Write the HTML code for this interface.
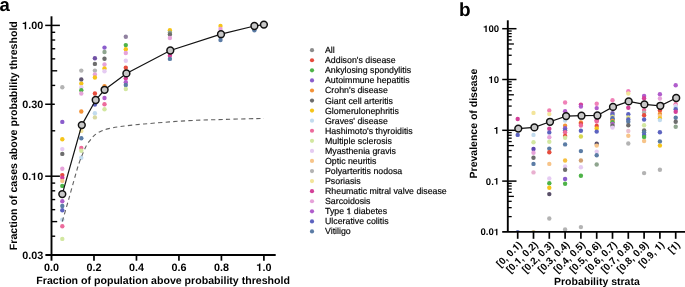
<!DOCTYPE html>
<html><head><meta charset="utf-8"><style>
html,body{margin:0;padding:0;background:#fff;}
body{width:685px;height:287px;overflow:hidden;}
svg{display:block;}
text{text-rendering:geometricPrecision;}
.h1{fill-opacity:0;}
</style></head><body>
<svg width="685" height="287" viewBox="0 0 685 287">
<rect width="685" height="287" fill="#fff"/>
<g opacity="0.995">
<text x="-0.4" y="10.9" font-size="18.5" font-weight="bold" font-family="Liberation Sans, sans-serif">a</text>
<text transform="translate(17.2,135.7) rotate(-90)" text-anchor="middle" font-size="10.6" font-weight="bold" font-family="Liberation Sans, sans-serif">Fraction of cases above probability threshold</text>
<circle cx="62.3" cy="87.2" r="2.2" fill="#b3b3b3"/>
<circle cx="62.3" cy="121.9" r="2.2" fill="#8a5ccc"/>
<circle cx="62.3" cy="139.3" r="2.2" fill="#f5c419"/>
<circle cx="62.3" cy="149.1" r="2.2" fill="#e5cbf2"/>
<circle cx="62.3" cy="153.9" r="2.2" fill="#6c6c6c"/>
<circle cx="62.3" cy="168.7" r="2.2" fill="#e6a2d9"/>
<circle cx="62.3" cy="175.1" r="2.2" fill="#e64b3c"/>
<circle cx="62.3" cy="177.8" r="2.2" fill="#d33f98"/>
<circle cx="62.3" cy="180.9" r="2.2" fill="#f7c489"/>
<circle cx="62.3" cy="185.9" r="2.2" fill="#4db347"/>
<circle cx="62.3" cy="201.2" r="2.2" fill="#b05ccc"/>
<circle cx="62.3" cy="206" r="2.2" fill="#5a7ba5"/>
<circle cx="62.3" cy="210.2" r="2.2" fill="#5b62c0"/>
<circle cx="62.3" cy="219.6" r="2.2" fill="#c2dbee"/>
<circle cx="62.3" cy="226.3" r="2.2" fill="#ec6a9c"/>
<circle cx="62.3" cy="238.9" r="2.2" fill="#d2e7a0"/>
<circle cx="81.3" cy="70.6" r="2.2" fill="#b3b3b3"/>
<circle cx="81.3" cy="79.5" r="2.2" fill="#5e5470"/>
<circle cx="81.3" cy="83.6" r="2.2" fill="#f5c419"/>
<circle cx="81.3" cy="87.2" r="2.2" fill="#e5cbf2"/>
<circle cx="81.3" cy="90.3" r="2.2" fill="#4db347"/>
<circle cx="81.3" cy="93.5" r="2.2" fill="#e6a2d9"/>
<circle cx="81.3" cy="111.5" r="2.2" fill="#f39237"/>
<circle cx="81.3" cy="130.9" r="2.2" fill="#f3e49a"/>
<circle cx="81.3" cy="138.2" r="2.2" fill="#5a7ba5"/>
<circle cx="81.3" cy="148" r="2.2" fill="#ec6a9c"/>
<circle cx="81.3" cy="150.8" r="2.2" fill="#d2e7a0"/>
<circle cx="81.3" cy="157.7" r="2.2" fill="#c2dbee"/>
<circle cx="94.9" cy="58.3" r="2.2" fill="#7050a5"/>
<circle cx="94.9" cy="63.9" r="2.2" fill="#6c6c6c"/>
<circle cx="94.9" cy="70.6" r="2.2" fill="#b3b3b3"/>
<circle cx="94.9" cy="74.4" r="2.2" fill="#e6a2d9"/>
<circle cx="94.9" cy="77.5" r="2.2" fill="#f5c419"/>
<circle cx="94.9" cy="93.5" r="2.2" fill="#e64b3c"/>
<circle cx="94.9" cy="104.5" r="2.2" fill="#5b62c0"/>
<circle cx="94.9" cy="113.2" r="2.2" fill="#c2dbee"/>
<circle cx="94.9" cy="117.4" r="2.2" fill="#d8d8a0"/>
<circle cx="104.5" cy="47.6" r="2.2" fill="#8a5ccc"/>
<circle cx="104.5" cy="52" r="2.2" fill="#8fa58f"/>
<circle cx="104.5" cy="58.7" r="2.2" fill="#6c6c6c"/>
<circle cx="104.5" cy="64.5" r="2.2" fill="#e6a2d9"/>
<circle cx="104.5" cy="68.5" r="2.2" fill="#f5c419"/>
<circle cx="104.5" cy="71.2" r="2.2" fill="#e5cbf2"/>
<circle cx="104.5" cy="86.1" r="2.2" fill="#f39237"/>
<circle cx="104.5" cy="98" r="2.2" fill="#b05ccc"/>
<circle cx="104.5" cy="104.3" r="2.2" fill="#ec6a9c"/>
<circle cx="104.5" cy="109.2" r="2.2" fill="#d2e7a0"/>
<circle cx="125.8" cy="36.7" r="2.2" fill="#9080a0"/>
<circle cx="125.8" cy="45.1" r="2.2" fill="#4db347"/>
<circle cx="125.8" cy="49.3" r="2.2" fill="#f5c419"/>
<circle cx="125.8" cy="53" r="2.2" fill="#e6a2d9"/>
<circle cx="125.8" cy="60.8" r="2.2" fill="#e5cbf2"/>
<circle cx="125.8" cy="67.7" r="2.2" fill="#e64b3c"/>
<circle cx="125.8" cy="78.3" r="2.2" fill="#d33f98"/>
<circle cx="125.8" cy="82.3" r="2.2" fill="#b05ccc"/>
<circle cx="125.8" cy="85" r="2.2" fill="#5a7ba5"/>
<circle cx="125.8" cy="89" r="2.2" fill="#d2e7a0"/>
<circle cx="169.9" cy="30.2" r="2.2" fill="#f5c419"/>
<circle cx="169.9" cy="32.6" r="2.2" fill="#8fa58f"/>
<circle cx="169.9" cy="34.4" r="2.2" fill="#6c6c6c"/>
<circle cx="169.9" cy="38" r="2.2" fill="#e6a2d9"/>
<circle cx="169.9" cy="55.8" r="2.2" fill="#d33f98"/>
<circle cx="169.9" cy="58.9" r="2.2" fill="#5a7ba5"/>
<circle cx="220.5" cy="26" r="2.2" fill="#f5c419"/>
<circle cx="220.5" cy="29" r="2.2" fill="#e6a2d9"/>
<circle cx="220.5" cy="40" r="2.2" fill="#5a7ba5"/>
<circle cx="254.4" cy="30.3" r="2.2" fill="#5a7ba5"/>
<path d="M62.3,221.5 C63.33,217.92 66.35,207.58 68.5,200 C70.65,192.42 73.43,182.17 75.2,176 C76.97,169.83 77.77,166.90 79.1,163 C80.43,159.10 81.93,155.60 83.2,152.6 C84.47,149.60 85.42,147.22 86.7,145 C87.98,142.78 89.62,140.92 90.9,139.3 C92.18,137.68 92.88,136.57 94.4,135.3 C95.92,134.03 97.80,132.77 100,131.7 C102.20,130.63 104.27,129.75 107.6,128.9 C110.93,128.05 113.95,127.42 120,126.6 C126.05,125.78 132.95,124.97 143.9,124.0 C154.85,123.03 172.18,121.57 185.7,120.8 C199.22,120.03 211.97,119.80 225,119.4 C238.03,119.00 257.42,118.57 263.9,118.4" fill="none" stroke="#606060" stroke-width="1.1" stroke-dasharray="4.3,3.25"/>
<line x1="51.5" y1="16.3" x2="51.5" y2="260.7" stroke="#000" stroke-width="1.9"/>
<line x1="45.4" y1="255.0" x2="275.7" y2="255.0" stroke="#000" stroke-width="1.9"/>
<line x1="45.2" y1="25.40" x2="59.9" y2="25.40" stroke="#000" stroke-width="1.5"/>
<text x="43.2" y="29.30" text-anchor="end" font-size="10.8" font-weight="bold" font-family="Liberation Sans, sans-serif"><tspan class="h1">1</tspan>.00</text>
<line x1="45.2" y1="104.25" x2="54.8" y2="104.25" stroke="#000" stroke-width="1.5"/>
<text x="43.2" y="108.15" text-anchor="end" font-size="10.8" font-weight="bold" font-family="Liberation Sans, sans-serif">0.30</text>
<line x1="45.2" y1="176.20" x2="59.9" y2="176.20" stroke="#000" stroke-width="1.5"/>
<text x="43.2" y="180.10" text-anchor="end" font-size="10.8" font-weight="bold" font-family="Liberation Sans, sans-serif">0.<tspan class="h1">1</tspan>0</text>
<text x="43.2" y="258.95" text-anchor="end" font-size="10.8" font-weight="bold" font-family="Liberation Sans, sans-serif">0.03</text>
<line x1="51.5" y1="32.30" x2="55.2" y2="32.30" stroke="#000" stroke-width="1.4"/>
<line x1="51.5" y1="40.01" x2="55.2" y2="40.01" stroke="#000" stroke-width="1.4"/>
<line x1="51.5" y1="48.76" x2="55.2" y2="48.76" stroke="#000" stroke-width="1.4"/>
<line x1="51.5" y1="58.85" x2="55.2" y2="58.85" stroke="#000" stroke-width="1.4"/>
<line x1="51.5" y1="70.80" x2="57.2" y2="70.80" stroke="#000" stroke-width="1.4"/>
<line x1="51.5" y1="85.41" x2="55.2" y2="85.41" stroke="#000" stroke-width="1.4"/>
<line x1="51.5" y1="130.80" x2="55.2" y2="130.80" stroke="#000" stroke-width="1.4"/>
<line x1="51.5" y1="183.10" x2="55.2" y2="183.10" stroke="#000" stroke-width="1.4"/>
<line x1="51.5" y1="190.81" x2="55.2" y2="190.81" stroke="#000" stroke-width="1.4"/>
<line x1="51.5" y1="199.56" x2="55.2" y2="199.56" stroke="#000" stroke-width="1.4"/>
<line x1="51.5" y1="209.65" x2="55.2" y2="209.65" stroke="#000" stroke-width="1.4"/>
<line x1="51.5" y1="221.60" x2="57.2" y2="221.60" stroke="#000" stroke-width="1.4"/>
<line x1="51.5" y1="236.21" x2="55.2" y2="236.21" stroke="#000" stroke-width="1.4"/>
<text x="51.50" y="270.9" text-anchor="middle" font-size="10.8" font-weight="bold" font-family="Liberation Sans, sans-serif">0.0</text>
<line x1="93.98" y1="255.0" x2="93.98" y2="260.7" stroke="#000" stroke-width="1.7"/>
<text x="93.98" y="270.9" text-anchor="middle" font-size="10.8" font-weight="bold" font-family="Liberation Sans, sans-serif">0.2</text>
<line x1="136.46" y1="255.0" x2="136.46" y2="260.7" stroke="#000" stroke-width="1.7"/>
<text x="136.46" y="270.9" text-anchor="middle" font-size="10.8" font-weight="bold" font-family="Liberation Sans, sans-serif">0.4</text>
<line x1="178.94" y1="255.0" x2="178.94" y2="260.7" stroke="#000" stroke-width="1.7"/>
<text x="178.94" y="270.9" text-anchor="middle" font-size="10.8" font-weight="bold" font-family="Liberation Sans, sans-serif">0.6</text>
<line x1="221.42" y1="255.0" x2="221.42" y2="260.7" stroke="#000" stroke-width="1.7"/>
<text x="221.42" y="270.9" text-anchor="middle" font-size="10.8" font-weight="bold" font-family="Liberation Sans, sans-serif">0.8</text>
<line x1="263.90" y1="255.0" x2="263.90" y2="260.7" stroke="#000" stroke-width="1.7"/>
<text x="263.90" y="270.9" text-anchor="middle" font-size="10.8" font-weight="bold" font-family="Liberation Sans, sans-serif"><tspan class="h1">1</tspan>.0</text>
<text x="36.3" y="283.6" font-size="10.6" font-weight="bold" font-family="Liberation Sans, sans-serif">Fraction of population above probability threshold</text>
<polyline points="62.3,194.1 81.8,125.1 95.7,100.0 104.6,89.8 126.4,73.4 170.3,50.5 221.0,34.2 254.4,26.0 263.9,24.6" fill="none" stroke="#111" stroke-width="1.2"/>
<circle cx="62.3" cy="194.1" r="3.4" fill="#c8c8c8" stroke="#111" stroke-width="1.5"/>
<circle cx="81.8" cy="125.1" r="3.4" fill="#c8c8c8" stroke="#111" stroke-width="1.5"/>
<circle cx="95.7" cy="100.0" r="3.4" fill="#c8c8c8" stroke="#111" stroke-width="1.5"/>
<circle cx="104.6" cy="89.8" r="3.4" fill="#c8c8c8" stroke="#111" stroke-width="1.5"/>
<circle cx="126.4" cy="73.4" r="3.4" fill="#c8c8c8" stroke="#111" stroke-width="1.5"/>
<circle cx="170.3" cy="50.5" r="3.4" fill="#c8c8c8" stroke="#111" stroke-width="1.5"/>
<circle cx="221.0" cy="34.2" r="3.4" fill="#c8c8c8" stroke="#111" stroke-width="1.5"/>
<circle cx="254.4" cy="26.0" r="3.4" fill="#c8c8c8" stroke="#111" stroke-width="1.5"/>
<circle cx="263.9" cy="24.6" r="3.4" fill="#c8c8c8" stroke="#111" stroke-width="1.5"/>
<circle cx="312" cy="50.20" r="2.1" fill="#8c8c8c"/>
<text x="325" y="53.20" font-size="8.8" fill="#000" stroke="#000" stroke-width="0.18" font-family="Liberation Sans, sans-serif">All</text>
<circle cx="312" cy="60.27" r="2.1" fill="#e64b3c"/>
<text x="325" y="63.27" font-size="8.8" fill="#000" stroke="#000" stroke-width="0.18" font-family="Liberation Sans, sans-serif">Addison's disease</text>
<circle cx="312" cy="70.34" r="2.1" fill="#4db347"/>
<text x="325" y="73.34" font-size="8.8" fill="#000" stroke="#000" stroke-width="0.18" font-family="Liberation Sans, sans-serif">Ankylosing spondylitis</text>
<circle cx="312" cy="80.41" r="2.1" fill="#8a5ccc"/>
<text x="325" y="83.41" font-size="8.8" fill="#000" stroke="#000" stroke-width="0.18" font-family="Liberation Sans, sans-serif">Autoimmune hepatitis</text>
<circle cx="312" cy="90.48" r="2.1" fill="#f39237"/>
<text x="325" y="93.48" font-size="8.8" fill="#000" stroke="#000" stroke-width="0.18" font-family="Liberation Sans, sans-serif">Crohn's disease</text>
<circle cx="312" cy="100.55" r="2.1" fill="#6c6c6c"/>
<text x="325" y="103.55" font-size="8.8" fill="#000" stroke="#000" stroke-width="0.18" font-family="Liberation Sans, sans-serif">Giant cell arteritis</text>
<circle cx="312" cy="110.62" r="2.1" fill="#f5c419"/>
<text x="325" y="113.62" font-size="8.8" fill="#000" stroke="#000" stroke-width="0.18" font-family="Liberation Sans, sans-serif">Glomerulonephritis</text>
<circle cx="312" cy="120.69" r="2.1" fill="#c2dbee"/>
<text x="325" y="123.69" font-size="8.8" fill="#000" stroke="#000" stroke-width="0.18" font-family="Liberation Sans, sans-serif">Graves' disease</text>
<circle cx="312" cy="130.76" r="2.1" fill="#ec6a9c"/>
<text x="325" y="133.76" font-size="8.8" fill="#000" stroke="#000" stroke-width="0.18" font-family="Liberation Sans, sans-serif">Hashimoto's thyroiditis</text>
<circle cx="312" cy="140.83" r="2.1" fill="#d2e7a0"/>
<text x="325" y="143.83" font-size="8.8" fill="#000" stroke="#000" stroke-width="0.18" font-family="Liberation Sans, sans-serif">Multiple sclerosis</text>
<circle cx="312" cy="150.90" r="2.1" fill="#e5cbf2"/>
<text x="325" y="153.90" font-size="8.8" fill="#000" stroke="#000" stroke-width="0.18" font-family="Liberation Sans, sans-serif">Myasthenia gravis</text>
<circle cx="312" cy="160.97" r="2.1" fill="#f7c489"/>
<text x="325" y="163.97" font-size="8.8" fill="#000" stroke="#000" stroke-width="0.18" font-family="Liberation Sans, sans-serif">Optic neuritis</text>
<circle cx="312" cy="171.04" r="2.1" fill="#b3b3b3"/>
<text x="325" y="174.04" font-size="8.8" fill="#000" stroke="#000" stroke-width="0.18" font-family="Liberation Sans, sans-serif">Polyarteritis nodosa</text>
<circle cx="312" cy="181.11" r="2.1" fill="#f3e49a"/>
<text x="325" y="184.11" font-size="8.8" fill="#000" stroke="#000" stroke-width="0.18" font-family="Liberation Sans, sans-serif">Psoriasis</text>
<circle cx="312" cy="191.18" r="2.1" fill="#d33f98"/>
<text x="325" y="194.18" font-size="8.8" fill="#000" stroke="#000" stroke-width="0.18" font-family="Liberation Sans, sans-serif">Rheumatic mitral valve disease</text>
<circle cx="312" cy="201.25" r="2.1" fill="#e6a2d9"/>
<text x="325" y="204.25" font-size="8.8" fill="#000" stroke="#000" stroke-width="0.18" font-family="Liberation Sans, sans-serif">Sarcoidosis</text>
<circle cx="312" cy="211.32" r="2.1" fill="#b05ccc"/>
<text x="325" y="214.32" font-size="8.8" fill="#000" stroke="#000" stroke-width="0.18" font-family="Liberation Sans, sans-serif">Type <tspan class="h1">1</tspan> diabetes</text>
<circle cx="312" cy="221.39" r="2.1" fill="#5b62c0"/>
<text x="325" y="224.39" font-size="8.8" fill="#000" stroke="#000" stroke-width="0.18" font-family="Liberation Sans, sans-serif">Ulcerative colitis</text>
<circle cx="312" cy="231.46" r="2.1" fill="#5a7ba5"/>
<text x="325" y="234.46" font-size="8.8" fill="#000" stroke="#000" stroke-width="0.18" font-family="Liberation Sans, sans-serif">Vitiligo</text>
<text x="459" y="15.9" font-size="19" font-weight="bold" font-family="Liberation Sans, sans-serif">b</text>
<text transform="translate(476.6,123.6) rotate(-90)" text-anchor="middle" font-size="10.5" font-weight="bold" font-family="Liberation Sans, sans-serif">Prevalence of disease</text>
<clipPath id="cb"><rect x="500" y="0" width="185" height="231.9"/></clipPath><g clip-path="url(#cb)">
<circle cx="517.7" cy="119" r="2.2" fill="#d33f98"/>
<circle cx="517.7" cy="134.9" r="2.2" fill="#5b62c0"/>
<circle cx="517.7" cy="232.2" r="2.2" fill="#6470b0"/>
<circle cx="533.5" cy="112.9" r="2.2" fill="#f3e49a"/>
<circle cx="533.5" cy="134.9" r="2.2" fill="#c2dbee"/>
<circle cx="533.5" cy="142.3" r="2.2" fill="#d2e7a0"/>
<circle cx="533.5" cy="149" r="2.2" fill="#5b45b0"/>
<circle cx="533.5" cy="152.7" r="2.2" fill="#e6a2d9"/>
<circle cx="533.5" cy="157.8" r="2.2" fill="#6c6c6c"/>
<circle cx="533.5" cy="163.9" r="2.2" fill="#5a7ba5"/>
<circle cx="533.5" cy="172.4" r="2.2" fill="#e9b0d0"/>
<circle cx="533.5" cy="232.2" r="2.2" fill="#c8b888"/>
<circle cx="549.3" cy="110.5" r="2.2" fill="#f080b0"/>
<circle cx="549.3" cy="114.1" r="2.2" fill="#f3e49a"/>
<circle cx="549.3" cy="128.8" r="2.2" fill="#d33f98"/>
<circle cx="549.3" cy="132.4" r="2.2" fill="#5b62c0"/>
<circle cx="549.3" cy="137.3" r="2.2" fill="#e6a2d9"/>
<circle cx="549.3" cy="141.8" r="2.2" fill="#d2e7a0"/>
<circle cx="549.3" cy="148.6" r="2.2" fill="#5a7ba5"/>
<circle cx="549.3" cy="152.2" r="2.2" fill="#e64b3c"/>
<circle cx="549.3" cy="163.9" r="2.2" fill="#f7c489"/>
<circle cx="549.3" cy="178.5" r="2.2" fill="#e5cbf2"/>
<circle cx="549.3" cy="183.2" r="2.2" fill="#4db347"/>
<circle cx="549.3" cy="187.8" r="2.2" fill="#f5c419"/>
<circle cx="549.3" cy="194.1" r="2.2" fill="#574d66"/>
<circle cx="549.3" cy="218.5" r="2.2" fill="#b3b3b3"/>
<circle cx="565.1" cy="102.5" r="2.2" fill="#f080b8"/>
<circle cx="565.1" cy="111.2" r="2.2" fill="#b05ccc"/>
<circle cx="565.1" cy="120.5" r="2.2" fill="#c2dbee"/>
<circle cx="565.1" cy="125.7" r="2.2" fill="#f39237"/>
<circle cx="565.1" cy="128.2" r="2.2" fill="#8a5ccc"/>
<circle cx="565.1" cy="130.2" r="2.2" fill="#5b62c0"/>
<circle cx="565.1" cy="132.3" r="2.2" fill="#ec6a9c"/>
<circle cx="565.1" cy="136" r="2.2" fill="#e64b3c"/>
<circle cx="565.1" cy="137.8" r="2.2" fill="#d2e7a0"/>
<circle cx="565.1" cy="144.4" r="2.2" fill="#5a7ba5"/>
<circle cx="565.1" cy="160.5" r="2.2" fill="#f6c040"/>
<circle cx="565.1" cy="166.5" r="2.2" fill="#e5cbf2"/>
<circle cx="565.1" cy="169.8" r="2.2" fill="#6c6c6c"/>
<circle cx="565.1" cy="179" r="2.2" fill="#8a5ccc"/>
<circle cx="565.1" cy="183.7" r="2.2" fill="#4db347"/>
<circle cx="565.1" cy="229.4" r="2.2" fill="#b3b3b3"/>
<circle cx="580.9" cy="104.6" r="2.2" fill="#d33f98"/>
<circle cx="580.9" cy="106.6" r="2.2" fill="#b05ccc"/>
<circle cx="580.9" cy="122.5" r="2.2" fill="#f39237"/>
<circle cx="580.9" cy="123.7" r="2.2" fill="#e64b3c"/>
<circle cx="580.9" cy="125.5" r="2.2" fill="#ec6a9c"/>
<circle cx="580.9" cy="130.7" r="2.2" fill="#5b62c0"/>
<circle cx="580.9" cy="136.5" r="2.2" fill="#d8d850"/>
<circle cx="580.9" cy="151.1" r="2.2" fill="#5a7ba5"/>
<circle cx="580.9" cy="160.5" r="2.2" fill="#d0a070"/>
<circle cx="580.9" cy="167.2" r="2.2" fill="#e5cbf2"/>
<circle cx="580.9" cy="175.8" r="2.2" fill="#4db347"/>
<circle cx="580.9" cy="227.1" r="2.2" fill="#b3b3b3"/>
<circle cx="596.7" cy="103.7" r="2.2" fill="#f080b8"/>
<circle cx="596.7" cy="108.1" r="2.2" fill="#b05ccc"/>
<circle cx="596.7" cy="120.3" r="2.2" fill="#d33f98"/>
<circle cx="596.7" cy="121.6" r="2.2" fill="#ec6a9c"/>
<circle cx="596.7" cy="126" r="2.2" fill="#e64b3c"/>
<circle cx="596.7" cy="128.4" r="2.2" fill="#f5c419"/>
<circle cx="596.7" cy="131.6" r="2.2" fill="#5b62c0"/>
<circle cx="596.7" cy="143.8" r="2.2" fill="#574d66"/>
<circle cx="596.7" cy="145.6" r="2.2" fill="#f7c489"/>
<circle cx="596.7" cy="151.6" r="2.2" fill="#e5cbf2"/>
<circle cx="596.7" cy="155.2" r="2.2" fill="#5a7ba5"/>
<circle cx="596.7" cy="164.5" r="2.2" fill="#8fa58f"/>
<circle cx="612.5" cy="100.2" r="2.2" fill="#f080b8"/>
<circle cx="612.5" cy="113.1" r="2.2" fill="#7b5ea7"/>
<circle cx="612.5" cy="114.8" r="2.2" fill="#5b62c0"/>
<circle cx="612.5" cy="116.6" r="2.2" fill="#d0dc80"/>
<circle cx="612.5" cy="118.3" r="2.2" fill="#5b62c0"/>
<circle cx="612.5" cy="119.5" r="2.2" fill="#5a7ba5"/>
<circle cx="612.5" cy="120.9" r="2.2" fill="#f39237"/>
<circle cx="612.5" cy="122.3" r="2.2" fill="#4db347"/>
<circle cx="612.5" cy="123.9" r="2.2" fill="#b05ccc"/>
<circle cx="612.5" cy="125.8" r="2.2" fill="#6c6c6c"/>
<circle cx="612.5" cy="127.6" r="2.2" fill="#e5cbf2"/>
<circle cx="628.3" cy="91.2" r="2.2" fill="#f080c0"/>
<circle cx="628.3" cy="93.5" r="2.2" fill="#f3e49a"/>
<circle cx="628.3" cy="107.7" r="2.2" fill="#d33f98"/>
<circle cx="628.3" cy="114.3" r="2.2" fill="#5b62c0"/>
<circle cx="628.3" cy="117.4" r="2.2" fill="#e0e080"/>
<circle cx="628.3" cy="119.5" r="2.2" fill="#5b62c0"/>
<circle cx="628.3" cy="121.8" r="2.2" fill="#5a7ba5"/>
<circle cx="628.3" cy="125.3" r="2.2" fill="#6c6c6c"/>
<circle cx="628.3" cy="131" r="2.2" fill="#e9c0d0"/>
<circle cx="628.3" cy="135.8" r="2.2" fill="#f7c489"/>
<circle cx="628.3" cy="143.5" r="2.2" fill="#b3b3b3"/>
<circle cx="644.1" cy="96" r="2.2" fill="#b05ccc"/>
<circle cx="644.1" cy="98.3" r="2.2" fill="#d33f98"/>
<circle cx="644.1" cy="110.1" r="2.2" fill="#ec6a9c"/>
<circle cx="644.1" cy="112.6" r="2.2" fill="#b3b3b3"/>
<circle cx="644.1" cy="115.3" r="2.2" fill="#e64b3c"/>
<circle cx="644.1" cy="119.5" r="2.2" fill="#5b62c0"/>
<circle cx="644.1" cy="125.3" r="2.2" fill="#d2e7a0"/>
<circle cx="644.1" cy="130.5" r="2.2" fill="#6c6c6c"/>
<circle cx="644.1" cy="132.3" r="2.2" fill="#5a7ba5"/>
<circle cx="644.1" cy="134.9" r="2.2" fill="#5b62c0"/>
<circle cx="644.1" cy="137" r="2.2" fill="#4db347"/>
<circle cx="644.1" cy="141" r="2.2" fill="#f7c489"/>
<circle cx="644.1" cy="173.1" r="2.2" fill="#b3b3b3"/>
<circle cx="659.9" cy="94.3" r="2.2" fill="#b05ccc"/>
<circle cx="659.9" cy="98.5" r="2.2" fill="#e6a2d9"/>
<circle cx="659.9" cy="110.5" r="2.2" fill="#e64b3c"/>
<circle cx="659.9" cy="114" r="2.2" fill="#f39237"/>
<circle cx="659.9" cy="116" r="2.2" fill="#f7c489"/>
<circle cx="659.9" cy="118.4" r="2.2" fill="#f5c419"/>
<circle cx="659.9" cy="120.1" r="2.2" fill="#c2dbee"/>
<circle cx="659.9" cy="132.3" r="2.2" fill="#5b62c0"/>
<circle cx="659.9" cy="141.5" r="2.2" fill="#5a7ba5"/>
<circle cx="659.9" cy="145.6" r="2.2" fill="#f5c419"/>
<circle cx="659.9" cy="169.8" r="2.2" fill="#b3b3b3"/>
<circle cx="675.7" cy="85.3" r="2.2" fill="#b05ccc"/>
<circle cx="675.7" cy="104.3" r="2.2" fill="#ec6a9c"/>
<circle cx="675.7" cy="105.8" r="2.2" fill="#e5cbf2"/>
<circle cx="675.7" cy="107.5" r="2.2" fill="#c2dbee"/>
<circle cx="675.7" cy="109.3" r="2.2" fill="#5b62c0"/>
<circle cx="675.7" cy="111.8" r="2.2" fill="#d33f98"/>
<circle cx="675.7" cy="117.7" r="2.2" fill="#5a7ba5"/>
<circle cx="675.7" cy="121.8" r="2.2" fill="#6c6c6c"/>
<circle cx="675.7" cy="126.7" r="2.2" fill="#8fa58f"/>
</g>
<line x1="507.8" y1="20.3" x2="507.8" y2="231.9" stroke="#000" stroke-width="1.9"/>
<line x1="502.2" y1="231.9" x2="686" y2="231.9" stroke="#000" stroke-width="1.9"/>
<line x1="502.2" y1="28.70" x2="516.5" y2="28.70" stroke="#000" stroke-width="1.5"/>
<text x="499.2" y="32.10" text-anchor="end" font-size="9.6" font-weight="bold" font-family="Liberation Sans, sans-serif"><tspan class="h1">1</tspan>00</text>
<line x1="502.2" y1="79.50" x2="516.5" y2="79.50" stroke="#000" stroke-width="1.5"/>
<text x="499.2" y="82.90" text-anchor="end" font-size="9.6" font-weight="bold" font-family="Liberation Sans, sans-serif"><tspan class="h1">1</tspan>0</text>
<line x1="502.2" y1="130.30" x2="516.5" y2="130.30" stroke="#000" stroke-width="1.5"/>
<text x="499.2" y="133.70" text-anchor="end" font-size="9.6" font-weight="bold" font-family="Liberation Sans, sans-serif"><tspan class="h1">1</tspan></text>
<line x1="502.2" y1="181.10" x2="516.5" y2="181.10" stroke="#000" stroke-width="1.5"/>
<text x="499.2" y="184.50" text-anchor="end" font-size="9.6" font-weight="bold" font-family="Liberation Sans, sans-serif">0.<tspan class="h1">1</tspan></text>
<text x="499.2" y="235.30" text-anchor="end" font-size="9.6" font-weight="bold" font-family="Liberation Sans, sans-serif">0.0<tspan class="h1">1</tspan></text>
<line x1="507.8" y1="64.21" x2="511.7" y2="64.21" stroke="#000" stroke-width="1.3"/>
<line x1="507.8" y1="55.26" x2="511.7" y2="55.26" stroke="#000" stroke-width="1.3"/>
<line x1="507.8" y1="48.92" x2="511.7" y2="48.92" stroke="#000" stroke-width="1.3"/>
<line x1="507.8" y1="43.99" x2="513.9" y2="43.99" stroke="#000" stroke-width="1.3"/>
<line x1="507.8" y1="39.97" x2="511.7" y2="39.97" stroke="#000" stroke-width="1.3"/>
<line x1="507.8" y1="36.57" x2="511.7" y2="36.57" stroke="#000" stroke-width="1.3"/>
<line x1="507.8" y1="33.62" x2="511.7" y2="33.62" stroke="#000" stroke-width="1.3"/>
<line x1="507.8" y1="31.02" x2="511.7" y2="31.02" stroke="#000" stroke-width="1.3"/>
<line x1="507.8" y1="115.01" x2="511.7" y2="115.01" stroke="#000" stroke-width="1.3"/>
<line x1="507.8" y1="106.06" x2="511.7" y2="106.06" stroke="#000" stroke-width="1.3"/>
<line x1="507.8" y1="99.72" x2="511.7" y2="99.72" stroke="#000" stroke-width="1.3"/>
<line x1="507.8" y1="94.79" x2="513.9" y2="94.79" stroke="#000" stroke-width="1.3"/>
<line x1="507.8" y1="90.77" x2="511.7" y2="90.77" stroke="#000" stroke-width="1.3"/>
<line x1="507.8" y1="87.37" x2="511.7" y2="87.37" stroke="#000" stroke-width="1.3"/>
<line x1="507.8" y1="84.42" x2="511.7" y2="84.42" stroke="#000" stroke-width="1.3"/>
<line x1="507.8" y1="81.82" x2="511.7" y2="81.82" stroke="#000" stroke-width="1.3"/>
<line x1="507.8" y1="165.81" x2="511.7" y2="165.81" stroke="#000" stroke-width="1.3"/>
<line x1="507.8" y1="156.86" x2="511.7" y2="156.86" stroke="#000" stroke-width="1.3"/>
<line x1="507.8" y1="150.52" x2="511.7" y2="150.52" stroke="#000" stroke-width="1.3"/>
<line x1="507.8" y1="145.59" x2="513.9" y2="145.59" stroke="#000" stroke-width="1.3"/>
<line x1="507.8" y1="141.57" x2="511.7" y2="141.57" stroke="#000" stroke-width="1.3"/>
<line x1="507.8" y1="138.17" x2="511.7" y2="138.17" stroke="#000" stroke-width="1.3"/>
<line x1="507.8" y1="135.22" x2="511.7" y2="135.22" stroke="#000" stroke-width="1.3"/>
<line x1="507.8" y1="132.62" x2="511.7" y2="132.62" stroke="#000" stroke-width="1.3"/>
<line x1="507.8" y1="216.61" x2="511.7" y2="216.61" stroke="#000" stroke-width="1.3"/>
<line x1="507.8" y1="207.66" x2="511.7" y2="207.66" stroke="#000" stroke-width="1.3"/>
<line x1="507.8" y1="201.32" x2="511.7" y2="201.32" stroke="#000" stroke-width="1.3"/>
<line x1="507.8" y1="196.39" x2="513.9" y2="196.39" stroke="#000" stroke-width="1.3"/>
<line x1="507.8" y1="192.37" x2="511.7" y2="192.37" stroke="#000" stroke-width="1.3"/>
<line x1="507.8" y1="188.97" x2="511.7" y2="188.97" stroke="#000" stroke-width="1.3"/>
<line x1="507.8" y1="186.02" x2="511.7" y2="186.02" stroke="#000" stroke-width="1.3"/>
<line x1="507.8" y1="183.42" x2="511.7" y2="183.42" stroke="#000" stroke-width="1.3"/>
<line x1="517.70" y1="231.9" x2="517.70" y2="238.8" stroke="#000" stroke-width="1.7"/>
<text transform="translate(522.70,245.3) rotate(-45)" text-anchor="end" font-size="10" font-weight="bold" font-family="Liberation Sans, sans-serif">[0, 0.<tspan class="h1">1</tspan>)</text>
<line x1="533.50" y1="231.9" x2="533.50" y2="238.8" stroke="#000" stroke-width="1.7"/>
<text transform="translate(538.50,245.3) rotate(-45)" text-anchor="end" font-size="10" font-weight="bold" font-family="Liberation Sans, sans-serif">[0.<tspan class="h1">1</tspan>, 0.2)</text>
<line x1="549.30" y1="231.9" x2="549.30" y2="238.8" stroke="#000" stroke-width="1.7"/>
<text transform="translate(554.30,245.3) rotate(-45)" text-anchor="end" font-size="10" font-weight="bold" font-family="Liberation Sans, sans-serif">[0.2, 0.3)</text>
<line x1="565.10" y1="231.9" x2="565.10" y2="238.8" stroke="#000" stroke-width="1.7"/>
<text transform="translate(570.10,245.3) rotate(-45)" text-anchor="end" font-size="10" font-weight="bold" font-family="Liberation Sans, sans-serif">[0.3, 0.4)</text>
<line x1="580.90" y1="231.9" x2="580.90" y2="238.8" stroke="#000" stroke-width="1.7"/>
<text transform="translate(585.90,245.3) rotate(-45)" text-anchor="end" font-size="10" font-weight="bold" font-family="Liberation Sans, sans-serif">[0.4, 0.5)</text>
<line x1="596.70" y1="231.9" x2="596.70" y2="238.8" stroke="#000" stroke-width="1.7"/>
<text transform="translate(601.70,245.3) rotate(-45)" text-anchor="end" font-size="10" font-weight="bold" font-family="Liberation Sans, sans-serif">[0.5, 0.6)</text>
<line x1="612.50" y1="231.9" x2="612.50" y2="238.8" stroke="#000" stroke-width="1.7"/>
<text transform="translate(617.50,245.3) rotate(-45)" text-anchor="end" font-size="10" font-weight="bold" font-family="Liberation Sans, sans-serif">[0.6, 0.7)</text>
<line x1="628.30" y1="231.9" x2="628.30" y2="238.8" stroke="#000" stroke-width="1.7"/>
<text transform="translate(633.30,245.3) rotate(-45)" text-anchor="end" font-size="10" font-weight="bold" font-family="Liberation Sans, sans-serif">[0.7, 0.8)</text>
<line x1="644.10" y1="231.9" x2="644.10" y2="238.8" stroke="#000" stroke-width="1.7"/>
<text transform="translate(649.10,245.3) rotate(-45)" text-anchor="end" font-size="10" font-weight="bold" font-family="Liberation Sans, sans-serif">[0.8, 0.9)</text>
<line x1="659.90" y1="231.9" x2="659.90" y2="238.8" stroke="#000" stroke-width="1.7"/>
<text transform="translate(664.90,245.3) rotate(-45)" text-anchor="end" font-size="10" font-weight="bold" font-family="Liberation Sans, sans-serif">[0.9, <tspan class="h1">1</tspan>)</text>
<line x1="675.70" y1="231.9" x2="675.70" y2="238.8" stroke="#000" stroke-width="1.7"/>
<text transform="translate(680.70,245.3) rotate(-45)" text-anchor="end" font-size="10" font-weight="bold" font-family="Liberation Sans, sans-serif">[<tspan class="h1">1</tspan>)</text>
<text x="554" y="284.6" font-size="10.5" font-weight="bold" font-family="Liberation Sans, sans-serif">Probability strata</text>
<polyline points="518.3,128.6 534.4,127.4 550,121.8 566.1,116.1 581.5,115.7 597.4,115.5 613,106.9 628.7,101.4 644.4,104.4 660.3,105.8 676.2,98.0" fill="none" stroke="#111" stroke-width="1.2"/>
<circle cx="518.3" cy="128.6" r="3.4" fill="#c8c8c8" stroke="#111" stroke-width="1.5"/>
<circle cx="534.4" cy="127.4" r="3.4" fill="#c8c8c8" stroke="#111" stroke-width="1.5"/>
<circle cx="550" cy="121.8" r="3.4" fill="#c8c8c8" stroke="#111" stroke-width="1.5"/>
<circle cx="566.1" cy="116.1" r="3.4" fill="#c8c8c8" stroke="#111" stroke-width="1.5"/>
<circle cx="581.5" cy="115.7" r="3.4" fill="#c8c8c8" stroke="#111" stroke-width="1.5"/>
<circle cx="597.4" cy="115.5" r="3.4" fill="#c8c8c8" stroke="#111" stroke-width="1.5"/>
<circle cx="613" cy="106.9" r="3.4" fill="#c8c8c8" stroke="#111" stroke-width="1.5"/>
<circle cx="628.7" cy="101.4" r="3.4" fill="#c8c8c8" stroke="#111" stroke-width="1.5"/>
<circle cx="644.4" cy="104.4" r="3.4" fill="#c8c8c8" stroke="#111" stroke-width="1.5"/>
<circle cx="660.3" cy="105.8" r="3.4" fill="#c8c8c8" stroke="#111" stroke-width="1.5"/>
<circle cx="676.2" cy="98.0" r="3.4" fill="#c8c8c8" stroke="#111" stroke-width="1.5"/>
<path transform="translate(22.169,29.300) scale(0.005273,-0.005273)" d="M760,0 L760,1409 L540,1409 C520,1260 380,1190 100,1180 L100,1000 L480,1000 L480,0 Z"/>
<path transform="translate(31.169,180.100) scale(0.005273,-0.005273)" d="M760,0 L760,1409 L540,1409 C520,1260 380,1190 100,1180 L100,1000 L480,1000 L480,0 Z"/>
<path transform="translate(256.384,270.900) scale(0.005273,-0.005273)" d="M760,0 L760,1409 L540,1409 C520,1260 380,1190 100,1180 L100,1000 L480,1000 L480,0 Z"/>
<path transform="translate(346.516,214.320) scale(0.004297,-0.004297)" d="M696,0 L696,1409 L530,1409 C505,1270 380,1200 120,1190 L120,1050 L515,1050 L515,0 Z" stroke="#000" stroke-width="41.9"/>
<path transform="translate(483.184,32.100) scale(0.004687,-0.004687)" d="M760,0 L760,1409 L540,1409 C520,1260 380,1190 100,1180 L100,1000 L480,1000 L480,0 Z"/>
<path transform="translate(488.513,82.900) scale(0.004687,-0.004687)" d="M760,0 L760,1409 L540,1409 C520,1260 380,1190 100,1180 L100,1000 L480,1000 L480,0 Z"/>
<path transform="translate(493.856,133.700) scale(0.004687,-0.004687)" d="M760,0 L760,1409 L540,1409 C520,1260 380,1190 100,1180 L100,1000 L480,1000 L480,0 Z"/>
<path transform="translate(493.856,184.500) scale(0.004687,-0.004687)" d="M760,0 L760,1409 L540,1409 C520,1260 380,1190 100,1180 L100,1000 L480,1000 L480,0 Z"/>
<path transform="translate(493.856,235.300) scale(0.004687,-0.004687)" d="M760,0 L760,1409 L540,1409 C520,1260 380,1190 100,1180 L100,1000 L480,1000 L480,0 Z"/>
<path transform="translate(522.70,245.3) rotate(-45) translate(-8.906,0.000) scale(0.004883,-0.004883)" d="M760,0 L760,1409 L540,1409 C520,1260 380,1190 100,1180 L100,1000 L480,1000 L480,0 Z"/>
<path transform="translate(538.50,245.3) rotate(-45) translate(-28.359,0.000) scale(0.004883,-0.004883)" d="M760,0 L760,1409 L540,1409 C520,1260 380,1190 100,1180 L100,1000 L480,1000 L480,0 Z"/>
<path transform="translate(664.90,245.3) rotate(-45) translate(-8.906,0.000) scale(0.004883,-0.004883)" d="M760,0 L760,1409 L540,1409 C520,1260 380,1190 100,1180 L100,1000 L480,1000 L480,0 Z"/>
<path transform="translate(680.70,245.3) rotate(-45) translate(-8.906,0.000) scale(0.004883,-0.004883)" d="M760,0 L760,1409 L540,1409 C520,1260 380,1190 100,1180 L100,1000 L480,1000 L480,0 Z"/>
</g>
</svg>
</body></html>
